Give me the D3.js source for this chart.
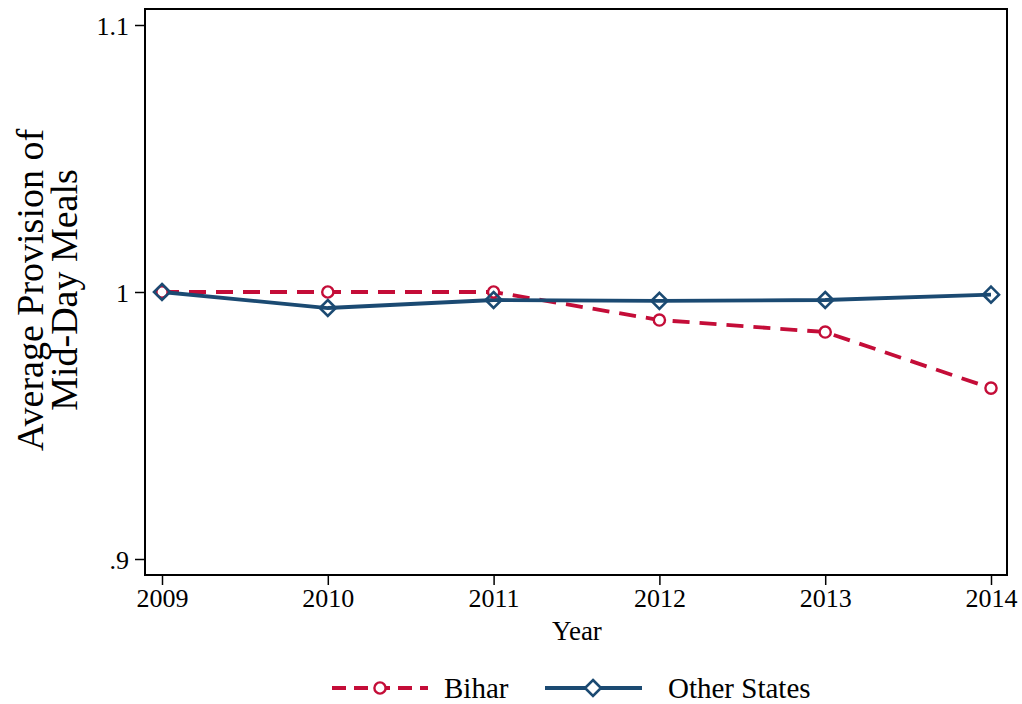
<!DOCTYPE html>
<html>
<head>
<meta charset="utf-8">
<script src="https://cdn.jsdelivr.net/npm/d3@7"></script>
<style>
  body { margin: 0; background: #fff; }
  text { font-family: "Liberation Serif", "DejaVu Serif", serif; fill: #000; }
</style>
</head>
<body>
<div id="chart"></div>
<script>
// data
var years = [2009, 2010, 2011, 2012, 2013, 2014];
var bihar = [1.0, 1.0, 1.0, 0.9895, 0.985, 0.964];
var otherStates = [1.0, 0.994, 0.997, 0.9967, 0.997, 0.999];
var yTicks = [0.9, 1.0, 1.1];
var yTickLabels = [".9", "1", "1.1"];

var width = 1022, height = 704;
var frame = {left: 145, top: 9, right: 1007, bottom: 575};

var svg = d3.select("#chart").append("svg")
  .attr("width", width)
  .attr("height", height);

var xScale = d3.scaleLinear().domain([2009, 2014]).range([162, 991]);
var yScale = d3.scaleLinear().domain([0.9, 1.1]).range([559, 25]);

// frame
svg.append("rect")
  .attr("x", frame.left).attr("y", frame.top)
  .attr("width", frame.right - frame.left)
  .attr("height", frame.bottom - frame.top)
  .attr("fill", "none").attr("stroke", "#000").attr("stroke-width", 2);

// axes
var xAxis = svg.append("g")
  .attr("transform", "translate(0," + frame.bottom + ")")
  .call(d3.axisBottom(xScale).tickValues(years).tickFormat(d3.format("d")).tickSize(10).tickPadding(4));
xAxis.select(".domain").remove();
xAxis.selectAll("line").attr("stroke-width", 1.5);
xAxis.attr("font-family", null).attr("font-size", null);
xAxis.selectAll("text").style("font-size", "26px");

var yAxis = svg.append("g")
  .attr("transform", "translate(" + frame.left + ",0)")
  .call(d3.axisLeft(yScale).tickValues(yTicks)
    .tickFormat(function(d, i) { return yTickLabels[i]; }).tickSize(10).tickPadding(6));
yAxis.select(".domain").remove();
yAxis.selectAll("line").attr("stroke-width", 1.5);
yAxis.attr("font-family", null).attr("font-size", null);
yAxis.selectAll("text").style("font-size", "26px").attr("dy", "0.35em");

// axis titles
svg.append("text")
  .attr("x", 577).attr("y", 640)
  .style("text-anchor", "middle").style("font-size", "27px")
  .text("Year");

var ytitle = svg.append("text")
  .attr("transform", "translate(0,290) rotate(-90)")
  .style("text-anchor", "middle").style("font-size", "38px");
ytitle.append("tspan").attr("x", 0).attr("y", 43).text("Average Provision of");
ytitle.append("tspan").attr("x", 0).attr("y", 77).text("Mid-Day Meals");

// series
var line = d3.line()
  .x(function(d, i) { return xScale(years[i]); })
  .y(function(d) { return yScale(d); });

var red = "#c40d38", navy = "#1b4a72";
var plot = svg.append("g");

plot.append("path").datum(bihar)
  .attr("d", line).attr("fill", "none")
  .attr("stroke", red).attr("stroke-width", 3.8)
  .attr("stroke-dasharray", "17,10");

plot.append("path").datum(otherStates)
  .attr("d", line).attr("fill", "none")
  .attr("stroke", navy).attr("stroke-width", 3.8);

plot.selectAll(".dot").data(bihar).enter()
  .append("circle")
  .attr("cx", function(d, i) { return xScale(years[i]); })
  .attr("cy", function(d) { return yScale(d); })
  .attr("r", 5.6)
  .attr("fill", "#fff").attr("stroke", red).attr("stroke-width", 2.4);

var diamond = "M0,-8L8,0L0,8L-8,0Z";
plot.selectAll(".dia").data(otherStates).enter()
  .append("path")
  .attr("d", diamond)
  .attr("transform", function(d, i) { return "translate(" + xScale(years[i]) + "," + yScale(d) + ")"; })
  .attr("fill", "none").attr("stroke", navy).attr("stroke-width", 2.6);

// legend
var leg = svg.append("g").attr("transform", "translate(0,688)");
leg.append("line").attr("x1", 332).attr("x2", 428).attr("y1", 0).attr("y2", 0)
  .attr("stroke", red).attr("stroke-width", 3.8).attr("stroke-dasharray", "14,8");
leg.append("circle").attr("cx", 380).attr("cy", 0).attr("r", 5.6)
  .attr("fill", "#fff").attr("stroke", red).attr("stroke-width", 2.4);
leg.append("text").attr("x", 444).attr("y", 10).style("font-size", "29px").text("Bihar");

leg.append("line").attr("x1", 545).attr("x2", 642).attr("y1", 0).attr("y2", 0)
  .attr("stroke", navy).attr("stroke-width", 3.8);
leg.append("path").attr("d", diamond).attr("transform", "translate(593,0)")
  .attr("fill", "#fff").attr("stroke", navy).attr("stroke-width", 2.6);
leg.append("text").attr("x", 668).attr("y", 10).style("font-size", "29px").text("Other States");
</script>
</body>
</html>
